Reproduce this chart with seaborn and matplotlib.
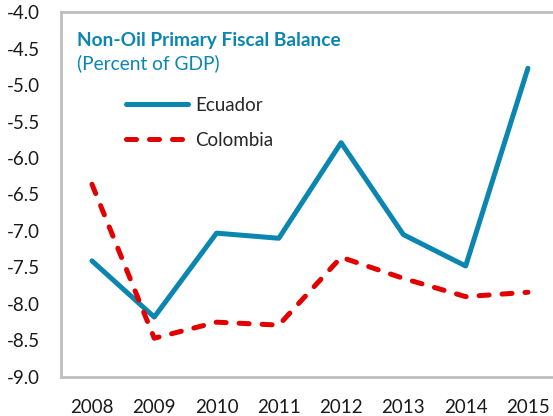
import numpy as np
import pandas as pd
import matplotlib
matplotlib.use("Agg")
import matplotlib.pyplot as plt
from matplotlib.ticker import FixedLocator, FormatStrFormatter
import seaborn as sns

# dati
years = [2008, 2009, 2010, 2011, 2012, 2013, 2014, 2015]
ecuador = [-7.41, -8.18, -7.03, -7.10, -5.79, -7.05, -7.48, -4.77]
colombia = [-6.36, -8.47, -8.25, -8.29, -7.36, -7.65, -7.90, -7.84]
countries = ["Ecuador", "Colombia"]
title = "Non-Oil Primary Fiscal Balance"
subtitle = "(Percent of GDP)"

blu = "#0B86B1"
rosso = "#E30000"
grigio = "#BFBFBF"
tratteggio = (2.0, 2.6)

df = pd.DataFrame({
    "year": years * 2,
    "value": ecuador + colombia,
    "country": [countries[0]] * len(years) + [countries[1]] * len(years),
})

sns.set_style("white")
plt.rcParams["font.family"] = ["Lato", "DejaVu Sans"]
plt.rcParams["axes.unicode_minus"] = False

fig = plt.figure(figsize=(5.53, 4.16), dpi=100)
ax = fig.add_axes([0.110, 0.094, 0.901, 0.877])

sns.lineplot(data=df, x="year", y="value", hue="country", style="country",
             palette={"Ecuador": blu, "Colombia": rosso},
             dashes={"Ecuador": "", "Colombia": tratteggio},
             linewidth=3.6, ax=ax, legend=False)
for ln in ax.lines:
    ln.set_solid_capstyle("round")
    ln.set_dash_capstyle("round")

ax.set_xlim(2007.5, 2015.5)
ax.set_ylim(-9.0, -4.0)
ax.set_xlabel("")
ax.set_ylabel("")

ax.xaxis.set_major_locator(FixedLocator(years))
ax.xaxis.set_minor_locator(FixedLocator([y + 0.5 for y in years[:-1]]))
ax.set_xticklabels([str(y) for y in years])
ax.yaxis.set_major_locator(FixedLocator(np.arange(-9.0, -3.99, 0.5)))
ax.yaxis.set_major_formatter(FormatStrFormatter("%.1f"))

ax.tick_params(axis="x", which="major", length=0, pad=16, labelsize=13.5, labelcolor="#1a1a1a")
ax.tick_params(axis="x", which="minor", length=5, width=1.5, direction="in", color=grigio)
ax.tick_params(axis="y", length=5, width=1.5, direction="in", color=grigio, pad=15,
               labelsize=13.5, labelcolor="#1a1a1a")

for s in ax.spines.values():
    s.set_color(grigio)
    s.set_linewidth(2)

# titolo dentro il grafico
ax.text(0.032, 0.908, title, transform=ax.transAxes, color=blu, fontsize=13.8,
        fontweight="bold", va="baseline", ha="left")
ax.text(0.032, 0.843, subtitle, transform=ax.transAxes, color=blu, fontsize=13.8,
        va="baseline", ha="left")

handles = [plt.Line2D([], [], color=blu, lw=3.6, solid_capstyle="round"),
           plt.Line2D([], [], color=rosso, lw=3.6, dashes=tratteggio, dash_capstyle="round")]
ax.legend(handles, countries, loc="upper left", bbox_to_anchor=(0.115, 0.788),
          frameon=False, fontsize=13.5, handlelength=3.35, handletextpad=0.35,
          labelspacing=0.96, borderaxespad=0)

fig.savefig("out.png", dpi=100)
